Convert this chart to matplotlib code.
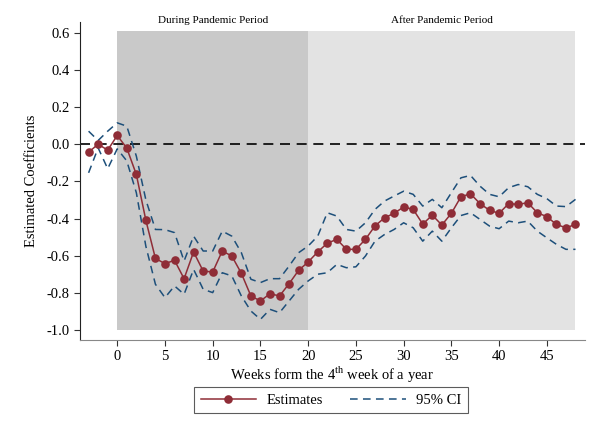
import matplotlib
matplotlib.use("Agg")
import matplotlib.pyplot as plt
import numpy as np

plt.rcParams['font.family'] = ['Liberation Serif', 'DejaVu Serif']
plt.rcParams['axes.unicode_minus'] = False
plt.rcParams['mathtext.fontset'] = 'custom'
plt.rcParams['mathtext.rm'] = 'Liberation Serif'

weeks = list(range(-3, 49))
estimates = [-0.043, 0.0, -0.032, 0.047, -0.021, -0.163, -0.41, -0.615, -0.643, -0.625,
             -0.724, -0.58, -0.683, -0.688, -0.575, -0.602, -0.695, -0.817, -0.844, -0.805,
             -0.817, -0.751, -0.679, -0.634, -0.58, -0.533, -0.512, -0.566, -0.566, -0.512,
             -0.44, -0.396, -0.372, -0.338, -0.351, -0.43, -0.382, -0.435, -0.372, -0.283,
             -0.267, -0.32, -0.356, -0.372, -0.32, -0.324, -0.315, -0.369, -0.39, -0.432,
             -0.45, -0.432]
upper = [0.07, 0.02, 0.07, 0.115, 0.097, -0.064, -0.30, -0.459, -0.46, -0.476,
         -0.629, -0.495, -0.575, -0.575, -0.468, -0.495, -0.584, -0.727, -0.745, -0.724,
         -0.724, -0.656, -0.584, -0.548, -0.495, -0.369, -0.387, -0.459, -0.468, -0.423,
         -0.351, -0.306, -0.279, -0.253, -0.27, -0.333, -0.297, -0.342, -0.261, -0.181,
         -0.168, -0.226, -0.27, -0.283, -0.234, -0.217, -0.229, -0.27, -0.293, -0.333,
         -0.336, -0.297]
lower = [-0.154, -0.02, -0.132, -0.025, -0.09, -0.261, -0.55, -0.754, -0.826, -0.763,
         -0.808, -0.674, -0.781, -0.799, -0.692, -0.709, -0.817, -0.898, -0.943, -0.889,
         -0.907, -0.844, -0.781, -0.736, -0.70, -0.692, -0.647, -0.665, -0.66, -0.602,
         -0.522, -0.486, -0.459, -0.423, -0.45, -0.522, -0.468, -0.522, -0.45, -0.384,
         -0.369, -0.405, -0.441, -0.455, -0.414, -0.423, -0.414, -0.468, -0.504, -0.539,
         -0.566, -0.566]
periods = ["During Pandemic Period", "After Pandemic Period"]
period_bounds = [(0, 20), (20, 48)]
xticks = [0, 5, 10, 15, 20, 25, 30, 35, 40, 45]
yticks = [0.6, 0.4, 0.2, 0.0, -0.2, -0.4, -0.6, -0.8, -1.0]

fig = plt.figure(figsize=(5.9, 4.32), dpi=100)
ax = fig.add_axes([0.1356, 0.213, 0.856, 0.737])

shade_colors = ['#c9c9c9', '#e3e3e3']
for (a, b), c, name in zip(period_bounds, shade_colors, periods):
    ax.fill_between([a, b], -1.0, 0.61, color=c, lw=0, zorder=0)
    ax.text((a + b) / 2, 0.665, name, ha='center', va='center', fontsize=8, clip_on=False)

ax.axhline(0, color='black', lw=1.2, ls=(0, (6, 4)), zorder=1)
ax.plot(weeks, upper, color='#1d4f7a', lw=1.1, ls=(0, (5, 3.5)), zorder=2)
ax.plot(weeks, lower, color='#1d4f7a', lw=1.1, ls=(0, (5, 3.5)), zorder=2, label='95% CI')
ax.plot(weeks, estimates, color='#8f2d37', lw=1.1, marker='o', markersize=6.2,
        markeredgewidth=0, zorder=3, label='Estimates')

ax.set_xlim(-3.9, 49)
ax.set_ylim(-1.054, 0.66)
ax.set_xticks(xticks)
ax.set_yticks(yticks)
ax.set_yticklabels([f"{v:.1f}" for v in yticks])
ax.tick_params(labelsize=10.5, direction='out', length=4, color='#333333')
ax.spines['top'].set_visible(False)
ax.spines['right'].set_visible(False)
ax.spines['left'].set_color('#222222')
ax.spines['bottom'].set_color('#888888')
ax.set_ylabel('Estimated Coefficients', fontsize=10.5, labelpad=6)
ax.set_xlabel('Weeks form the 4$^{\\mathrm{th}}$ week of a year', fontsize=10.5, labelpad=1)

h, l = ax.get_legend_handles_labels()
leg = fig.legend(h[::-1], l[::-1], loc='center', bbox_to_anchor=(0.561, 0.074), ncol=2,
                 fontsize=10.5, frameon=True, fancybox=False, edgecolor='#333333',
                 handlelength=3.8, handletextpad=0.7, columnspacing=1.9, borderpad=0.45)
leg.get_frame().set_linewidth(0.8)

fig.savefig('out.png', dpi=100)
